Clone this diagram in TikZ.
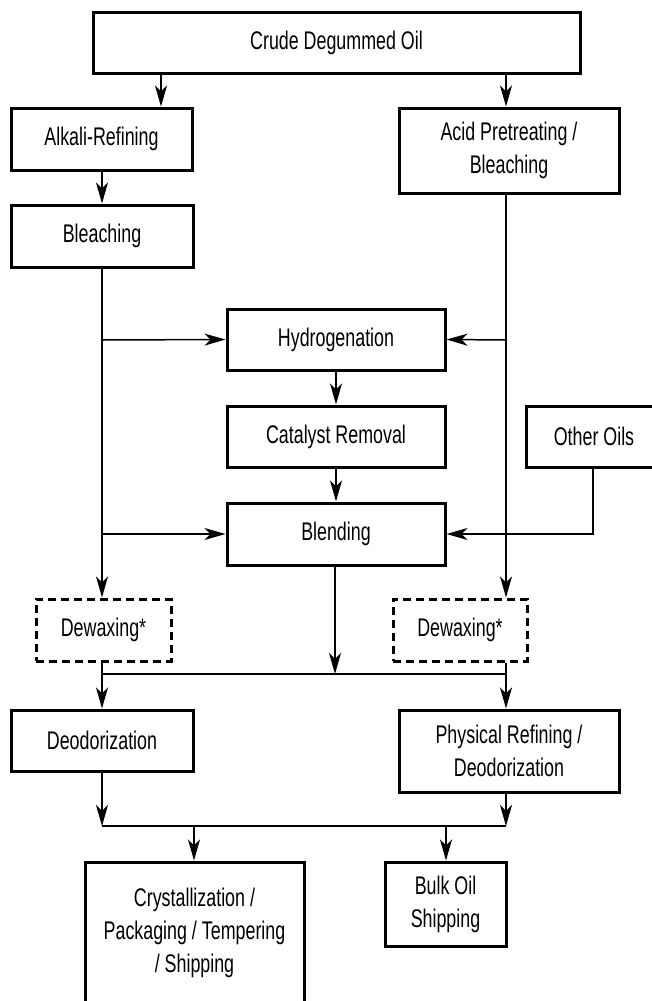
\documentclass[tikz,border=0pt]{standalone}
\usepackage{fontspec}
\setmainfont{Liberation Sans}[FakeStretch=0.70]
\usetikzlibrary{arrows.meta}
\begin{document}
\begin{tikzpicture}[x=1pt,y=-1pt,
  box/.style={draw=black, line width=3pt, fill=white, inner sep=0pt, align=center,
    font=\fontsize{25.5}{33}\selectfont},
  dbox/.style={box, dash pattern=on 8pt off 5pt},
  conn/.style={draw=black, line width=1.5pt},
  arr/.style={conn, -{Stealth[length=21pt,width=12pt,inset=6pt]}}]
\useasboundingbox (0,0) rectangle (651,1001);
% lanes
\coordinate (xa) at (161,0);
\coordinate (xl) at (102,0);
\coordinate (xr) at (506,0);
\coordinate (xm) at (335,0);
\coordinate (xo) at (593,0);
\coordinate (xc) at (194,0);
\coordinate (xb) at (446,0);
\coordinate (y1) at (0,340);
\coordinate (y2) at (0,534);
\coordinate (y3) at (0,674);
\coordinate (y4) at (0,826);
% nodes
\node[box, minimum width=487pt, minimum height=61pt] (crude) at (336.5,42.5) {Crude Degummed Oil};
\node[box, minimum width=181pt, minimum height=62pt] (alk) at (101.5,139) {Alkali-Refining};
\node[box, minimum width=220pt, minimum height=85pt] (acid) at (509,150.5) {Acid Pretreating /\\Bleaching};
\node[box, minimum width=182pt, minimum height=62pt] (bl) at (102,236) {Bleaching};
\node[box, minimum width=218pt, minimum height=61pt] (hyd) at (336,339.5) {Hydrogenation};
\node[box, minimum width=218pt, minimum height=61pt] (cat) at (336,436.5) {Catalyst Removal};
\node[box, minimum width=136pt, minimum height=61pt] (oth) at (594,436.5) {Other Oils};
\node[box, minimum width=218pt, minimum height=62pt] (blend) at (336,534) {Blending};
\node[dbox, minimum width=135pt, minimum height=62pt] (dwl) at (103.5,630) {Dewaxing*};
\node[dbox, minimum width=134pt, minimum height=62pt] (dwr) at (460,630) {Dewaxing*};
\node[box, minimum width=182pt, minimum height=61pt] (deo) at (102,740.5) {Deodorization};
\node[box, minimum width=220pt, minimum height=82pt] (phys) at (509,751) {Physical Refining /\\Deodorization};
\node[box, minimum width=219pt, minimum height=141pt] (cry) at (194.5,932.5) {Crystallization /\\Packaging / Tempering\\/ Shipping};
\node[box, minimum width=121pt, minimum height=84pt] (bulk) at (445.5,904) {Bulk Oil\\Shipping};
% connectors
\draw[arr] (crude.south -| xa) -- (alk.north -| xa);
\draw[arr] (crude.south -| xr) -- (acid.north -| xr);
\draw[arr] (alk.south -| xl) -- (bl.north -| xl);
\draw[arr] (bl.south -| xl) -- (dwl.north -| xl);
\draw[arr] (xl |- y1) -- (hyd.west);
\draw[arr] (xl |- y2) -- (blend.west);
\draw[arr] (acid.south -| xr) -- (dwr.north -| xr);
\draw[arr] (xr |- y1) -- (hyd.east);
\draw[arr] (hyd.south) -- (cat.north);
\draw[arr] (cat.south) -- (blend.north);
\draw[arr] (oth.south -| xo) |- (blend.east);
\draw[arr] (blend.south -| xm) -- (xm |- y3);
\draw[conn] (dwl.south -| xl) -- (xl |- y3) -- (xr |- y3) -- (dwr.south -| xr);
\draw[arr] (xl |- y3) -- (deo.north -| xl);
\draw[arr] (xr |- y3) -- (phys.north -| xr);
\draw[arr] (deo.south -| xl) -- (xl |- y4);
\draw[arr] (phys.south -| xr) -- (xr |- y4);
\draw[conn] (xl |- y4) -- (xr |- y4);
\draw[arr] (xc |- y4) -- (cry.north -| xc);
\draw[arr] (xb |- y4) -- (bulk.north -| xb);
\end{tikzpicture}
\end{document}
